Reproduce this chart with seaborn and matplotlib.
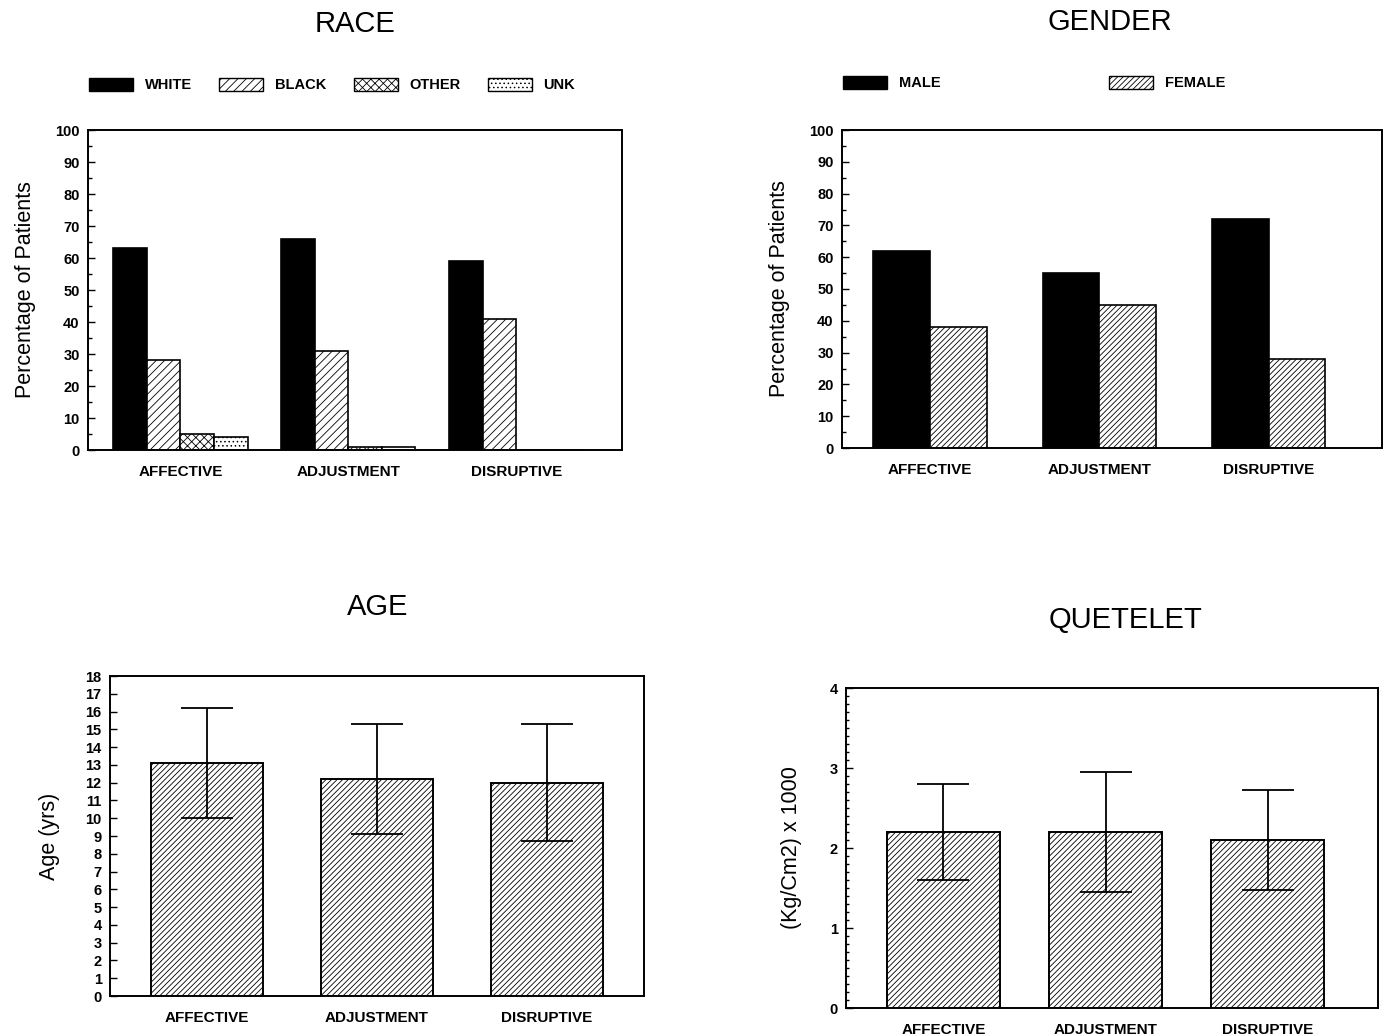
import seaborn as sns
import numpy as np
import matplotlib.pyplot as plt
import matplotlib.patches as mpatches
from matplotlib.ticker import MultipleLocator
import pandas as pd

groups = ["AFFECTIVE", "ADJUSTMENT", "DISRUPTIVE"]

race_levels = ["WHITE", "BLACK", "OTHER", "UNK"]
race_white = [63, 66, 59]
race_black = [28, 31, 41]
race_other = [5, 1, 0]
race_unk = [4, 1, 0]

gender_levels = ["MALE", "FEMALE"]
gender_male = [62, 55, 72]
gender_female = [38, 45, 28]

age_mean = [13.1, 12.2, 12.0]
age_sd = [3.1, 3.1, 3.3]

quet_mean = [2.2, 2.2, 2.1]
quet_sd = [0.6, 0.75, 0.63]

sns.set_style("white")
plt.rcParams["font.family"] = ["Liberation Sans", "DejaVu Sans"]
plt.rcParams["text.color"] = "black"
plt.rcParams["axes.labelcolor"] = "black"
plt.rcParams["xtick.color"] = "black"
plt.rcParams["ytick.color"] = "black"
plt.rcParams["hatch.linewidth"] = 0.6
plt.rcParams["axes.linewidth"] = 1.4

W, H = 1385, 1036
fig = plt.figure(figsize=(W / 100, H / 100), dpi=100)

def px_axes(l, t, r, b):
    return fig.add_axes([l / W, 1 - b / H, (r - l) / W, (b - t) / H])

def style_axes(ax):
    ax.tick_params(axis="y", which="both", direction="in", left=True, length=5, width=1, labelsize=10.5, pad=6)
    ax.tick_params(axis="y", which="minor", length=3)
    ax.tick_params(axis="x", length=0, pad=11)
    for lab in ax.get_yticklabels():
        lab.set_fontweight("bold")
    ax.set_xticks(range(len(groups)))
    ax.set_xticklabels(groups, fontsize=11, fontweight="bold")
    ax.set_xlabel("")
    for s in ax.spines.values():
        s.set_color("black")

# ---- RACE ----
race = pd.DataFrame({"group": groups * 4,
                     "race": np.repeat(race_levels, 3),
                     "pct": race_white + race_black + race_other + race_unk})
ax1 = px_axes(88, 130, 622, 450)
sns.barplot(data=race, x="group", y="pct", hue="race", order=groups, hue_order=race_levels,
            width=0.8, ax=ax1, legend=False, edgecolor="black", linewidth=1.2)
race_fill = ["black", "white", "white", "white"]
race_hatch = [None, "////", "xxxx", "...."]
for cont, fc, hh in zip(ax1.containers, race_fill, race_hatch):
    for p in cont:
        p.set_facecolor(fc)
        if hh:
            p.set_hatch(hh)
ax1.set_xlim(-0.55, 2.63)
ax1.set_ylim(0, 100)
ax1.yaxis.set_major_locator(MultipleLocator(10))
ax1.yaxis.set_minor_locator(MultipleLocator(5))
ax1.set_ylabel("Percentage of Patients", fontsize=15.5, labelpad=14)
style_axes(ax1)
fig.text(355 / W, 1 - 24 / H, "RACE", ha="center", va="center", fontsize=21)
handles = [mpatches.Patch(facecolor=fc, edgecolor="black", hatch=hh, label=lv)
           for fc, hh, lv in zip(race_fill, race_hatch, race_levels)]
fig.legend(handles=handles, loc="center left", bbox_to_anchor=(76 / W, 1 - 85 / H), ncol=4,
           frameon=False, handlelength=3.0, handleheight=1.0, columnspacing=1.9,
           prop={"size": 10.5, "weight": "bold"})

# ---- GENDER ----
gender = pd.DataFrame({"group": groups * 2,
                       "gender": np.repeat(gender_levels, 3),
                       "pct": gender_male + gender_female})
ax2 = px_axes(842, 130, 1382, 448)
sns.barplot(data=gender, x="group", y="pct", hue="gender", order=groups, hue_order=gender_levels,
            width=0.67, ax=ax2, legend=False, edgecolor="black", linewidth=1.2)
gender_fill = ["black", "white"]
gender_hatch = [None, "//////"]
for cont, fc, hh in zip(ax2.containers, gender_fill, gender_hatch):
    for p in cont:
        p.set_facecolor(fc)
        if hh:
            p.set_hatch(hh)
ax2.set_xlim(-0.52, 2.67)
ax2.set_ylim(0, 100)
ax2.yaxis.set_major_locator(MultipleLocator(10))
ax2.yaxis.set_minor_locator(MultipleLocator(5))
ax2.set_ylabel("Percentage of Patients", fontsize=15.5, labelpad=14)
style_axes(ax2)
fig.text(1110 / W, 1 - 22 / H, "GENDER", ha="center", va="center", fontsize=21)
handles = [mpatches.Patch(facecolor=fc, edgecolor="black", hatch=hh, label=lv)
           for fc, hh, lv in zip(gender_fill, gender_hatch, gender_levels)]
fig.legend(handles=handles, loc="center left", bbox_to_anchor=(830 / W, 1 - 83 / H), ncol=2,
           frameon=False, handlelength=3.0, handleheight=1.0, columnspacing=11.6,
           prop={"size": 10.5, "weight": "bold"})

# ---- AGE ----
age = pd.DataFrame({"group": groups, "mean": age_mean, "sd": age_sd})
ax3 = px_axes(110, 676, 644, 996)
sns.barplot(data=age, x="group", y="mean", order=groups, width=0.66, ax=ax3,
            color="white", edgecolor="black", linewidth=1.4, hatch="//////", errorbar=None)
ax3.errorbar(x=np.arange(len(groups)), y=age["mean"], yerr=age["sd"], fmt="none",
             ecolor="black", elinewidth=1.3, capsize=19, capthick=1.3)
ax3.set_xlim(-0.57, 2.57)
ax3.set_ylim(0, 18)
ax3.yaxis.set_major_locator(MultipleLocator(1))
ax3.set_ylabel("Age (yrs)", fontsize=15.5, labelpad=18)
style_axes(ax3)
fig.text(378 / W, 1 - 607 / H, "AGE", ha="center", va="center", fontsize=21)

# ---- QUETELET ----
quet = pd.DataFrame({"group": groups, "mean": quet_mean, "sd": quet_sd})
ax4 = px_axes(846, 688, 1378, 1008)
sns.barplot(data=quet, x="group", y="mean", order=groups, width=0.7, ax=ax4,
            color="white", edgecolor="black", linewidth=1.4, hatch="//////", errorbar=None)
ax4.errorbar(x=np.arange(len(groups)), y=quet["mean"], yerr=quet["sd"], fmt="none",
             ecolor="black", elinewidth=1.3, capsize=19, capthick=1.3)
ax4.set_xlim(-0.6, 2.68)
ax4.set_ylim(0, 4)
ax4.yaxis.set_major_locator(MultipleLocator(1))
ax4.yaxis.set_minor_locator(MultipleLocator(0.1))
ax4.set_ylabel("(Kg/Cm2) x 1000", fontsize=15.5, labelpad=20)
style_axes(ax4)
ax4.tick_params(axis="y", which="minor", length=2)
fig.text(1125 / W, 1 - 620 / H, "QUETELET", ha="center", va="center", fontsize=21)

fig.savefig("out.png", dpi=100)
